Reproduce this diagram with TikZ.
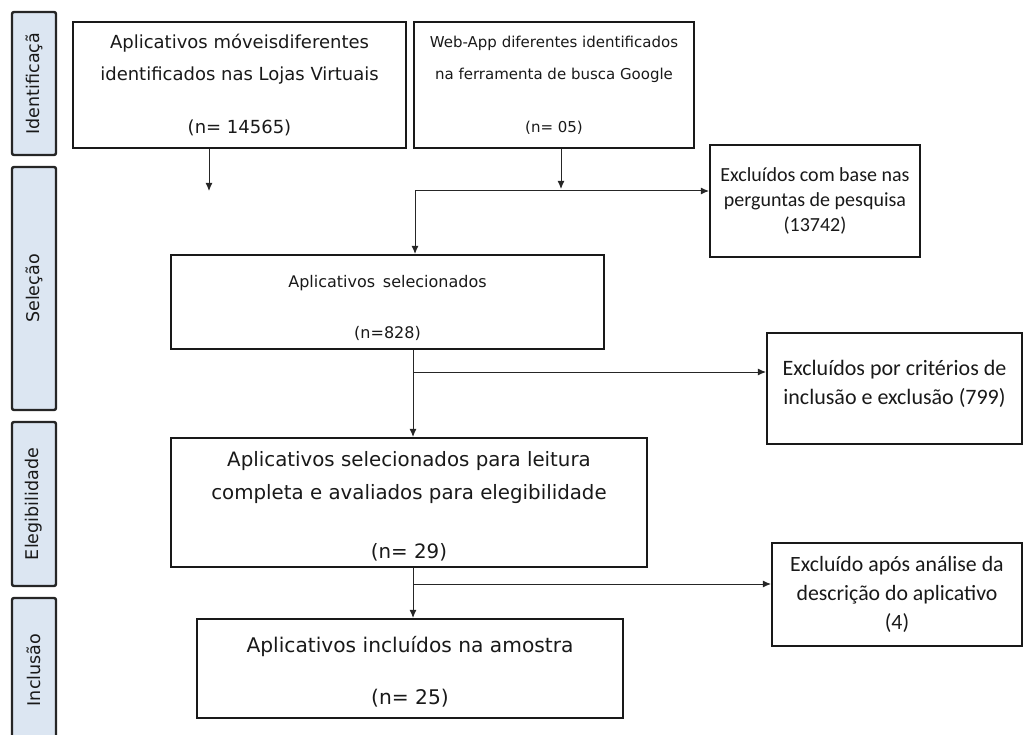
\documentclass[tikz,border=0pt]{standalone}
\usepackage{fontspec}
\setmainfont{DejaVu Sans}
\newfontfamily\calibrifont{Carlito}
\usetikzlibrary{arrows.meta}
\definecolor{fasefill}{RGB}{220,230,242}

\begin{document}
\begin{tikzpicture}[x=1pt, y=-1pt,
  fase/.style={draw=black!85, line width=2.4pt, fill=fasefill, rounded corners=2pt,
    rotate=90, minimum height=44pt, inner sep=0pt, text=black!90,
    font=\fontsize{17.5}{17.5}\selectfont},
  caixa/.style={draw=black!90, line width=2.1pt, inner sep=0pt, align=center, text=black!90},
  seta/.style={draw=black!85, line width=1pt, -{Latex[length=8pt,width=7pt]}}
]
\useasboundingbox (0,0) rectangle (1035,735);

% fases
\node[fase, minimum width=143pt] at (34,83.5) (fid) {Identificaçã};
\node[fase, minimum width=243pt] at (34,288.5) (fsel) {Seleção};
\node[fase, minimum width=164pt] at (34,504) (feleg) {Elegibilidade};
\node[fase, minimum width=144pt] at (34,670) (fincl) {Inclusão};

% caixas principais
\node[caixa, minimum width=333pt, minimum height=126pt, font=\fontsize{18}{32}\selectfont]
  at (239.5,85) (apps) {Aplicativos móveisdiferentes\\identificados nas Lojas Virtuais\\[21pt](n= 14565)};
\node[caixa, minimum width=280pt, minimum height=126pt, font=\fontsize{15}{32}\selectfont]
  at (554,85) (web) {Web-App diferentes identificados\\na ferramenta de busca Google\\[21pt](n= 05)};
\node[caixa, minimum width=433pt, minimum height=94pt, font=\fontsize{16}{51}\selectfont]
  at (387.5,302) (sel) {\rule{0pt}{24pt}Aplicativos\, selecionados\\(n=828)};
\node[caixa, minimum width=476pt, minimum height=129pt, font=\fontsize{19.8}{33}\selectfont]
  at (409,502.5) (eleg) {\rule{0pt}{22pt}Aplicativos selecionados para leitura\\completa e avaliados para elegibilidade\\[26pt](n= 29)};
\node[caixa, minimum width=426pt, minimum height=99pt, font=\fontsize{20.2}{52}\selectfont]
  at (410,668.5) (incl) {\rule{0pt}{22pt}Aplicativos incluídos na amostra\\(n= 25)};

% excluidos
\node[caixa, minimum width=210pt, minimum height=112pt, font=\calibrifont\fontsize{20}{25}\selectfont]
  at (815,201) (exc1) {Excluídos com base nas\\perguntas de pesquisa\\(13742)};
\node[caixa, minimum width=255pt, minimum height=111pt, font=\calibrifont\fontsize{22}{29}\selectfont]
  at (894.5,388.5) (exc2) {Excluídos por critérios de\\inclusão e exclusão (799)\\[-16pt]};
\node[caixa, minimum width=250pt, minimum height=103pt, font=\calibrifont\fontsize{21.8}{29}\selectfont]
  at (897,594.5) (exc3) {Excluído após análise da\\descrição do aplicativo\\(4)};

% pontos de juncao
\coordinate (pa) at (209,191);
\coordinate (pb) at (561,189);
\coordinate (j1) at (415,191);
\coordinate (j2) at (413,372);
\coordinate (j3) at (413,584);

\draw[seta] (apps.south -| pa) -- (pa);
\draw[seta] (web.south -| pb) -- (pb);
\draw[seta] (j1) -- (j1 -| exc1.west);
\draw[seta] (j1) -- (j1 |- sel.north);
\draw[seta] (sel.south -| j2) -- (eleg.north -| j2);
\draw[seta] (j2) -- (j2 -| exc2.west);
\draw[seta] (eleg.south -| j3) -- (incl.north -| j3);
\draw[seta] (j3) -- (j3 -| exc3.west);

\end{tikzpicture}
\end{document}
